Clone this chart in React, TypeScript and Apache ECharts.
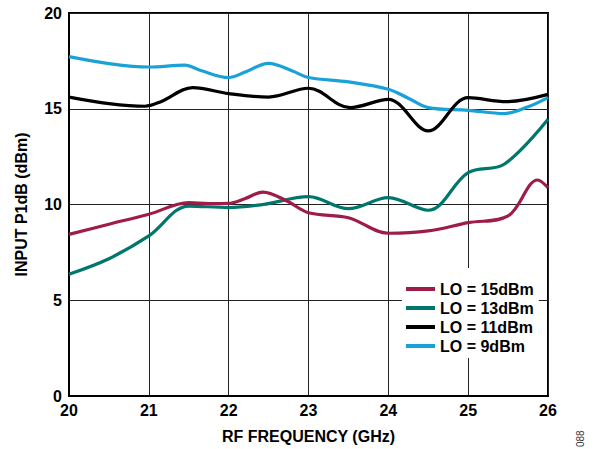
import React, { useEffect, useRef } from "react";
import * as echarts from "echarts";

const lo15x = [20.0, 20.5, 21.0, 21.5, 21.75, 22.0, 22.2, 22.43, 22.73, 23.0, 23.5, 24.0, 24.5, 25.0, 25.5, 25.87, 26.0];
const lo15y = [8.44, 8.97, 9.49, 10.1, 10.05, 10.06, 10.3, 10.65, 10.18, 9.57, 9.31, 8.5, 8.62, 9.05, 9.4, 11.28, 10.88];

const lo13x = [20.0, 20.5, 21.0, 21.5, 22.0, 22.43, 23.0, 23.5, 24.0, 24.5, 25.0, 25.45, 26.0];
const lo13y = [6.36, 7.17, 8.36, 9.92, 9.84, 10.0, 10.41, 9.78, 10.36, 9.7, 11.66, 12.1, 14.45];

const lo11x = [20.0, 20.5, 20.95, 21.15, 21.55, 22.0, 22.5, 23.0, 23.52, 24.0, 24.5, 25.0, 25.48, 26.0];
const lo11y = [15.61, 15.27, 15.13, 15.37, 16.1, 15.79, 15.61, 16.07, 15.06, 15.49, 13.84, 15.58, 15.37, 15.75];

const lo9x = [20.0, 20.5, 21.0, 21.45, 21.65, 22.0, 22.2, 22.5, 22.8, 23.0, 23.5, 24.0, 24.25, 24.5, 25.0, 25.45, 25.75, 26.0];
const lo9y = [17.72, 17.36, 17.18, 17.28, 17.0, 16.63, 16.9, 17.37, 16.97, 16.63, 16.4, 16.02, 15.55, 15.06, 14.92, 14.75, 15.1, 15.58];

const seriesNames = ["LO = 15dBm", "LO = 13dBm", "LO = 11dBm", "LO = 9dBm"];
const seriesColors = ["#9e1c47", "#00776d", "#000000", "#1aa1d8"];

const xTicksMin = 20;
const xTicksMax = 26;
const yTicksMin = 0;
const yTicksMax = 20;

const zip = (xs: number[], ys: number[]) => xs.map((x, i) => [x, ys[i]]);

export default function App() {
  const ref = useRef<HTMLDivElement>(null);
  useEffect(() => {
    if (!ref.current) return;
    const chart = echarts.init(ref.current, null, { renderer: "svg" });
    const font = "'Liberation Sans', Arial, sans-serif";
    const data = [zip(lo15x, lo15y), zip(lo13x, lo13y), zip(lo11x, lo11y), zip(lo9x, lo9y)];
    const drawOrder = [3, 2, 1, 0];
    chart.setOption({
      animation: false,
      backgroundColor: "#ffffff",
      textStyle: { fontFamily: font },
      grid: {
        left: 69,
        right: 47,
        top: 13,
        bottom: 52,
        show: true,
        borderColor: "#000",
        borderWidth: 2,
        backgroundColor: "transparent",
      },
      legend: {
        data: seriesNames,
        orient: "vertical",
        left: 402,
        top: 268,
        padding: [13, 5, 4, 4],
        backgroundColor: "#ffffff",
        itemGap: 3,
        itemWidth: 29,
        itemHeight: 4,
        icon: "rect",
        textStyle: { fontFamily: font, fontWeight: "bold", fontSize: 16, color: "#000" },
      },
      xAxis: {
        type: "value",
        min: xTicksMin,
        max: xTicksMax,
        interval: 1,
        name: "RF FREQUENCY (GHz)",
        nameLocation: "middle",
        nameGap: 32,
        nameTextStyle: { fontFamily: font, fontWeight: "bold", fontSize: 16, color: "#000" },
        axisLine: { lineStyle: { color: "#000", width: 2 } },
        axisTick: { show: false },
        axisLabel: { fontFamily: font, fontWeight: "bold", fontSize: 16, color: "#000", margin: 6 },
        splitLine: { show: true, lineStyle: { color: "#222", width: 1 } },
      },
      yAxis: {
        type: "value",
        min: yTicksMin,
        max: yTicksMax,
        interval: 5,
        name: "INPUT P1dB (dBm)",
        nameLocation: "middle",
        nameGap: 40,
        nameTextStyle: { fontFamily: font, fontWeight: "bold", fontSize: 16, color: "#000" },
        axisLine: { lineStyle: { color: "#000", width: 2 } },
        axisTick: { show: false },
        axisLabel: { fontFamily: font, fontWeight: "bold", fontSize: 16, color: "#000", margin: 7 },
        splitLine: { show: true, lineStyle: { color: "#222", width: 1 } },
      },
      series: drawOrder.map((i) => ({
        name: seriesNames[i],
        type: "line",
        data: data[i],
        smooth: 0.35,
        showSymbol: false,
        symbol: "none",
        lineStyle: { color: seriesColors[i], width: 3.2 },
        itemStyle: { color: seriesColors[i] },
      })),
      graphic: [
        {
          type: "text",
          x: 575,
          y: 447,
          rotation: Math.PI / 2,
          style: { text: "088", fontFamily: font, fontSize: 10, fill: "#333" },
        },
      ],
    });
    return () => chart.dispose();
  }, []);
  return <div ref={ref} style={{ width: 595, height: 449, position: "absolute", left: 0, top: 0 }} />;
}
